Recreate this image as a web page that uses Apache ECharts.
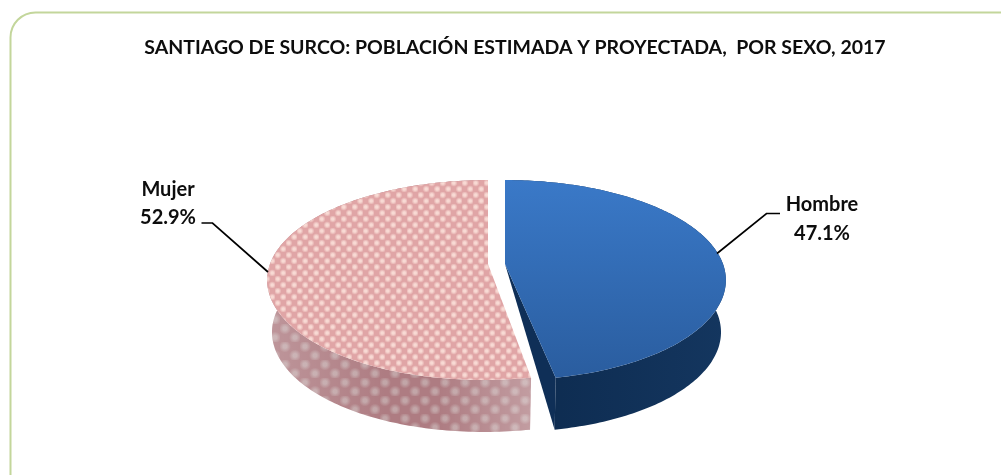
<!DOCTYPE html>
<html><head><meta charset="utf-8">
<style>html,body{margin:0;padding:0;background:#fff}#c{width:1001px;height:475px}</style>
<script src="https://cdn.jsdelivr.net/npm/echarts@6/dist/echarts.min.js"></script>
</head><body><div id="c"></div>
<script>
const titleText = 'SANTIAGO DE SURCO: POBLACIÓN ESTIMADA Y PROYECTADA,  POR SEXO, 2017';
const categories = ['Hombre', 'Mujer'];
const values = [47.1, 52.9];

// layout of the perspective pie
const FONT = 'Lato';
const R = 218, S = 97.4, K = 0.16, DEPTH = 52, BOTTOM_SCALE = 0.978;
const apexes = [[505, 264], [488, 264]];
const cutSkew = [4, -4];
const leaders = [
  [[717, 253.5], [766.5, 213.5], [780, 213.5]],
  [[268, 272], [212.5, 223], [201.5, 223]]
];
const labelPos = [[822, 205, 234], [168, 190, 218]];

function tile(w, h, base, spot, edge, rad) {
  const c = document.createElement('canvas');
  c.width = w; c.height = h;
  const g = c.getContext('2d');
  g.fillStyle = base; g.fillRect(0, 0, w, h);
  [[w/4, h/4], [3*w/4, 3*h/4]].forEach(([x, y]) => {
    const r = g.createRadialGradient(x, y, 0, x, y, rad);
    r.addColorStop(0, spot); r.addColorStop(0.3, spot); r.addColorStop(1, edge);
    g.fillStyle = r; g.beginPath(); g.arc(x, y, rad, 0, 7); g.fill();
  });
  return c;
}
const topTile = tile(11, 12, '#e0a5a6', 'rgba(248,218,212,1)', 'rgba(248,218,212,0)', 3.8);
const wallTile = tile(20, 18, '#ae7c82', 'rgba(194,166,168,1)', 'rgba(194,166,168,0)', 6);

function project(deg, apex, drop, skew) {
  const a = deg * Math.PI / 180;
  const u = Math.sin(a), v = -Math.cos(a), w = 1 - K * v;
  const s = drop ? BOTTOM_SCALE : 1;
  const near = Math.max(v, 0);
  return [apex[0] + R * s * u / w + skew * near * near * near, apex[1] + S * v / w + drop];
}
function arc(from, to, apex, drop, skew) {
  const n = Math.max(2, Math.ceil(Math.abs(to - from)));
  const pts = [];
  for (let i = 0; i <= n; i++) pts.push(project(from + (to - from) * i / n, apex, drop, skew));
  return pts;
}
const total = values.reduce((a, b) => a + b, 0);

const chart = echarts.init(document.getElementById('c'), null, {renderer: 'canvas'});
chart.setOption({
  animation: false,
  backgroundColor: '#fff',
  title: {
    text: titleText, left: 510, top: 33, textAlign: 'center',
    textStyle: {fontFamily: FONT, fontWeight: 'bold', fontSize: 19.5, color: '#0d0d0d'}
  },
  graphic: [{
    type: 'rect', silent: true, z: -1,
    shape: {x: 10.5, y: 12.5, width: 1100, height: 600, r: 25},
    style: {fill: '#fff', stroke: '#c3d69b', lineWidth: 2}
  }],
  series: [{
    type: 'custom',
    coordinateSystem: 'none',
    data: values.map((v, i) => ({value: v, name: categories[i]})),
    renderItem(params, api) {
      const i = params.dataIndex;
      const start = values.slice(0, i).reduce((a, b) => a + b, 0) / total * 360;
      const end = start + values[i] / total * 360;
      const apex = apexes[i], sk = cutSkew[i];
      const kids = [];
      const topArc = arc(start, end, apex, 0, sk);
      const botArc = arc(start, end, apex, DEPTH, sk);
      const wallPts = topArc.concat(botArc.slice().reverse());
      if (i === 0) {
        kids.push({type: 'polygon', shape: {points: wallPts}, style: {
          fill: new echarts.graphic.LinearGradient(0, 0, 1, 0, [
            {offset: 0, color: '#0c2a4e'}, {offset: 1, color: '#14365f'}])}});
        const e = project(end, apex, 0, sk), eb = project(end, apex, DEPTH, sk);
        kids.push({type: 'polygon', shape: {points: [apex, e, eb]}, style: {fill: '#0f2f57'}});
        kids.push({type: 'polygon', shape: {points: [apex].concat(topArc)}, style: {
          fill: new echarts.graphic.LinearGradient(0, 0, 0, 1, [
            {offset: 0, color: '#3a79c8'}, {offset: 1, color: '#2a5d9f'}])}});
      } else {
        kids.push({type: 'polygon', shape: {points: wallPts}, style: {
          fill: {image: wallTile, repeat: 'repeat'}}});
        kids.push({type: 'polygon', shape: {points: wallPts}, style: {
          fill: new echarts.graphic.LinearGradient(0, 0, 1, 0, [
            {offset: 0, color: 'rgba(255,255,255,0.2)'},
            {offset: 0.45, color: 'rgba(255,255,255,0)'},
            {offset: 0.65, color: 'rgba(255,255,255,0)'},
            {offset: 1, color: 'rgba(255,255,255,0.25)'}])}});
        kids.push({type: 'polygon', shape: {points: [apex].concat(topArc)}, style: {
          fill: {image: topTile, repeat: 'repeat'}}});
      }
      kids.push({type: 'polyline', shape: {points: leaders[i]},
        style: {fill: 'none', stroke: '#000', lineWidth: 1.7}});
      const lp = labelPos[i];
      const textStyle = {fontFamily: FONT, fontWeight: 'bold', fontSize: 20, fill: '#0d0d0d',
        align: 'center', verticalAlign: 'middle'};
      kids.push({type: 'text', x: lp[0], y: lp[1], style: Object.assign({text: categories[i]}, textStyle)});
      kids.push({type: 'text', x: lp[0], y: lp[2], style: Object.assign({text: values[i].toFixed(1) + '%'}, textStyle)});
      return {type: 'group', children: kids};
    }
  }]
});
</script></body></html>
